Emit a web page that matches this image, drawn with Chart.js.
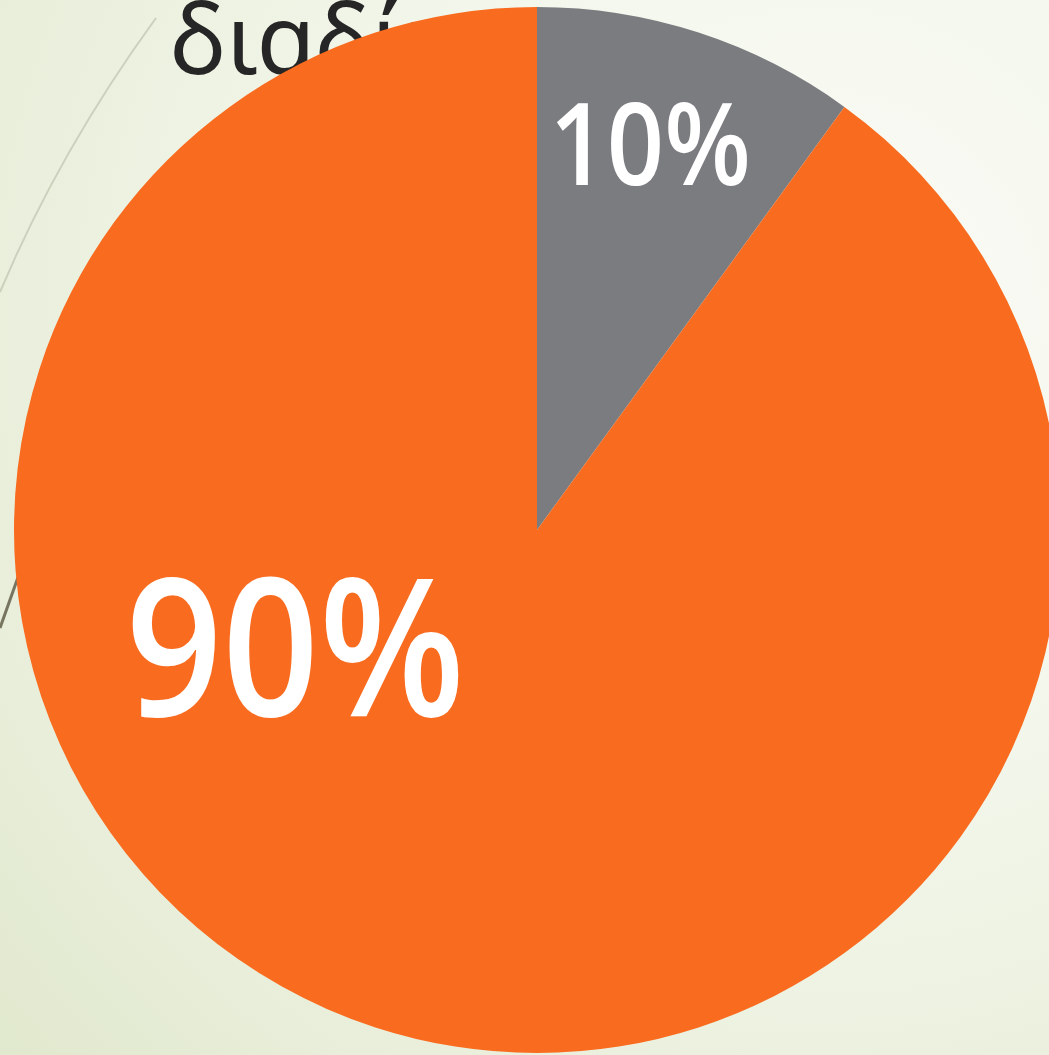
<!DOCTYPE html>
<html>
<head>
<meta charset="utf-8">
<script src="https://cdn.jsdelivr.net/npm/chart.js@4"></script>
<style>
  html, body { margin: 0; padding: 0; overflow: hidden; }
  body {
    width: 1049px; height: 1055px;
    background: radial-gradient(circle at 78% 30%, #fbfcf7 0%, #f2f6ea 45%, #e8eed9 80%, #e0e8cd 100%);
  }
  #wrap { position: absolute; left: 0; top: 0; width: 1075px; height: 1055px; }
</style>
</head>
<body>
<div id="wrap"><canvas id="myChart"></canvas></div>
<script>
const labels = ['Ναι', 'Όχι'];
const values = [10, 90];
const sliceColors = ['#7b7c80', '#f96b1e'];
const labelTexts = ['10%', '90%'];
const titleText = 'διαδίκτυο';

// label placement: angle from top (deg, clockwise), fraction of radius, font size
const labelPlace = [
    { angle: 16.7, frac: 0.753, size: 114 },
    { angle: 241.5, frac: 0.526, size: 192 }
];

const backdrop = {
    id: 'backdrop',
    beforeDraw(chart) {
        const c = chart.ctx;
        c.save();
        // decorative lines from the slide
        c.strokeStyle = 'rgba(190,195,175,0.7)';
        c.lineWidth = 2;
        c.beginPath();
        c.moveTo(156, 18);
        c.quadraticCurveTo(60, 150, 0, 292);
        c.stroke();
        c.strokeStyle = '#77755f';
        c.lineWidth = 3;
        c.beginPath();
        c.moveTo(22, 566);
        c.lineTo(0, 628);
        c.stroke();
        // title text behind the pie
        c.fillStyle = '#262626';
        c.font = '96px "Noto Sans"';
        c.textBaseline = 'alphabetic';
        c.fillText(titleText, 170, 74);
        c.restore();
    }
};

const pctLabels = {
    id: 'pctLabels',
    afterDatasetsDraw(chart) {
        const c = chart.ctx;
        const meta = chart.getDatasetMeta(0);
        meta.data.forEach((arc, i) => {
            const p = labelPlace[i];
            const a = p.angle * Math.PI / 180;
            const r = arc.outerRadius * p.frac;
            const x = arc.x + r * Math.sin(a);
            const y = arc.y - r * Math.cos(a);
            c.save();
            c.translate(x, y);
            c.scale(0.88, 1);
            c.fillStyle = '#ffffff';
            c.font = '600 ' + p.size + 'px "Open Sans"';
            c.textAlign = 'center';
            c.textBaseline = 'middle';
            c.fillText(labelTexts[i], 0, 0);
            c.restore();
        });
    }
};

let ctx = document.getElementById('myChart').getContext('2d');

let myChart = new Chart(ctx, {
    type: 'pie',
    data: {
        labels: labels,
        datasets: [{
            data: values,
            backgroundColor: sliceColors,
            borderWidth: 0
        }]
    },
    options: {
        responsive: true,
        maintainAspectRatio: false,
        animation: false,
        layout: {
            padding: { left: 14, right: 15, top: 7, bottom: 2 }
        },
        plugins: {
            legend: { display: false },
            tooltip: { enabled: false }
        }
    },
    plugins: [backdrop, pctLabels]
});
</script>
</body>
</html>
